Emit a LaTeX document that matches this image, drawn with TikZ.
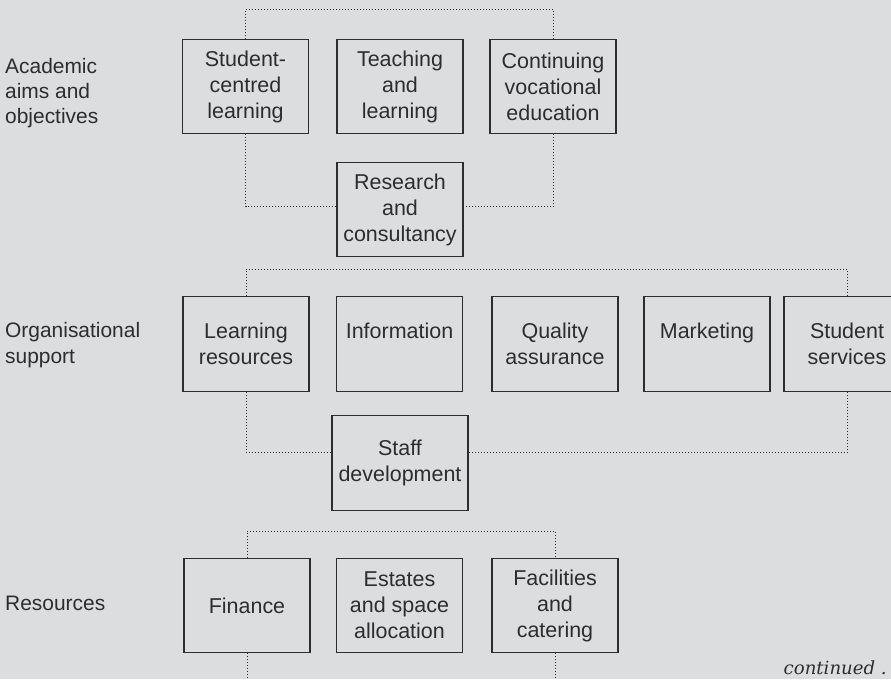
\documentclass[tikz,border=0pt]{standalone}
\usepackage{fontspec}
\setmainfont{Liberation Sans}
\newfontfamily\contfont{DejaVu Serif}
\usepackage{xcolor}
\usetikzlibrary{positioning,calc}

\definecolor{paper}{RGB}{220,221,223}
\definecolor{ink}{RGB}{45,45,45}

\begin{document}
\begin{tikzpicture}[
    x=0.75pt, y=-0.75pt,
    unit/.style={rectangle, draw=ink, line width=0.9pt, minimum width=94.5pt, minimum height=71pt, align=center, text=ink, font=\fontsize{16.1}{19.5}\selectfont},
    wideunit/.style={unit, minimum width=102pt},
    area/.style={anchor=west, align=left, text=ink, font=\fontsize{15.7}{19}\selectfont},
    link/.style={draw=ink, line width=0.6pt, dash pattern=on 0.6pt off 1.65pt}
]
    \useasboundingbox (0,0) rectangle (891,679);
    \clip (0,0) rectangle (891,679);
    \fill[paper] (0,0) rectangle (891,679);

    % Academic aims and objectives
    \node[area] (acad) at (0.5,93) {Academic\\aims and\\objectives};
    \node[unit] (scl) at (245.5,86.5) {Student-\\centred\\learning};
    \node[unit] (tal) at (400,86.5) {Teaching\\and\\learning};
    \node[unit] (cve) at (553,86.5) {Continuing\\vocational\\education};
    \node[unit] (res) at (400,209.5) {Research\\and\\consultancy};
    \coordinate (acadtop) at (400,9);

    % Organisational support
    \node[area] (org) at (0.5,345) {Organisational\\support};
    \node[unit] (lrn) at (246,344) {Learning\\resources};
    \node[unit] (inf) at (399.5,344) {Information\\~};
    \node[unit] (qas) at (555,344) {Quality\\assurance};
    \node[unit] (mkt) at (707,344) {Marketing\\~};
    \node[unit] (stu) at (847,344) {Student\\services};
    \node[wideunit] (stf) at (400,463) {Staff\\development};
    \coordinate (orgtop) at (546,269);

    % Resources
    \node[area] (rsc) at (0.5,603) {Resources};
    \node[unit] (fin) at (247,605.5) {Finance};
    \node[unit] (est) at (399.5,605.5) {Estates\\and space\\allocation};
    \node[unit] (fac) at (555,605.5) {Facilities\\and\\catering};
    \coordinate (rsctop) at (400,531);
    \coordinate (fincut) at (247,690);
    \coordinate (faccut) at (555,690);

    \node[anchor=base east, inner sep=0pt, text=ink, font=\contfont\itshape\fontsize{13.6}{15}\selectfont] (cont) at (887,674) {continued .};

    % Dotted links
    \draw[link] (scl.north) |- (acadtop) -| (cve.north);
    \draw[link] (scl.south) |- ([yshift=2pt]res.west);
    \draw[link] (cve.south) |- ([yshift=2pt]res.east);
    \draw[link] (lrn.north) |- (orgtop) -| (stu.north);
    \draw[link] (lrn.south) |- ([yshift=8pt]stf.west);
    \draw[link] (stu.south) |- ([yshift=8pt]stf.east);
    \draw[link] (fin.north) |- (rsctop) -| (fac.north);
    \draw[link] (fin.south) -- (fincut);
    \draw[link] (fac.south) -- (faccut);
\end{tikzpicture}
\end{document}
